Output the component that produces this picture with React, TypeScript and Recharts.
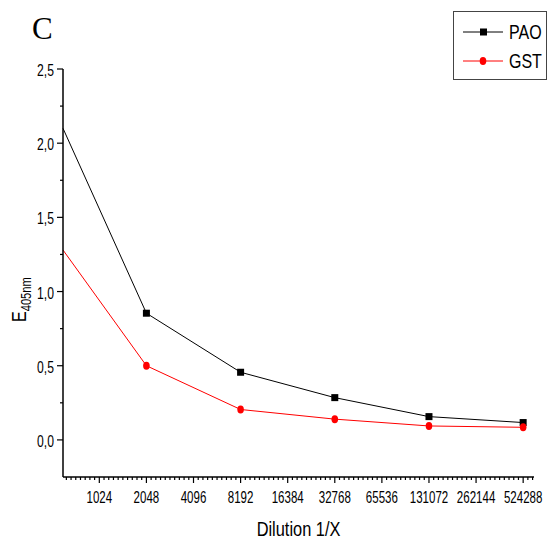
import React from "react";
import { LineChart, Line, XAxis, YAxis } from "recharts";

// ---- data ----
const dilutions = [600, 2048, 8192, 32768, 131072, 524288];
const paoValues = [2.1, 0.854, 0.456, 0.285, 0.157, 0.117];
const gstValues = [1.28, 0.5, 0.205, 0.14, 0.094, 0.085];

const xMajorTicks = [1024, 2048, 4096, 8192, 16384, 32768, 65536, 131072, 262144, 524288];
const yMajorTicks = [0, 0.5, 1, 1.5, 2, 2.5];
const xDomain = [600, 615000];
const yDomain = [-0.25, 2.5];

const seriesNames = ["PAO", "GST"];
const seriesColors = ["#000000", "#ff0000"];

const data = dilutions.map((d, i) => ({ d, pao: paoValues[i], gst: gstValues[i] }));

// minor ticks (10 subdivisions per octave on the log axis)
const xMinorTicks: number[] = [];
for (let k = 9; k <= 19; k++) {
  for (let j = 1; j <= 9; j++) {
    const v = Math.pow(2, k + j / 10);
    if (v >= xDomain[0] && v <= xDomain[1]) xMinorTicks.push(v);
  }
}
const xAllTicks = [...xMajorTicks, ...xMinorTicks].sort((a, b) => a - b);
const yMinorTicks = yMajorTicks.slice(0, -1).map((v) => v + 0.25);
const yAllTicks = [...yMajorTicks, ...yMinorTicks].sort((a, b) => a - b);

const FONT = "'Liberation Sans', Arial, sans-serif";

function NText(props: any) {
  const { x, y, size, anchor, children, sx } = props;
  const tr = `translate(${x},${y}) scale(${sx ?? 0.8},1)`;
  return (
    <text transform={tr} x={0} y={0} textAnchor={anchor || "start"} fontSize={size} fontFamily={FONT} fill="#000">
      {children}
    </text>
  );
}

function XTick(props: any) {
  const { x, y, payload } = props;
  const v = payload.value;
  const major = xMajorTicks.indexOf(v) >= 0;
  return (
    <g>
      <line x1={x} x2={x} y1={y} y2={y + (major ? 6 : 3)} stroke="#000" strokeWidth={1.2} />
      {major && (
        <NText x={x} y={y + 26} anchor="middle" size={16} sx={0.72}>
          {v}
        </NText>
      )}
    </g>
  );
}

function YTick(props: any) {
  const { x, y, payload } = props;
  const v = payload.value;
  const major = yMajorTicks.indexOf(v) >= 0;
  return (
    <g>
      <line x1={x - (major ? 6 : 3)} x2={x} y1={y} y2={y} stroke="#000" strokeWidth={1.2} />
      {major && (
        <NText x={x - 9} y={y + 7} anchor="end" size={16} sx={0.76}>
          {v.toFixed(1).replace(".", ",")}
        </NText>
      )}
    </g>
  );
}

function SquareDot(props: any) {
  const { cx, cy, index } = props;
  if (index === 0 || cx == null) return <g key={`s${index}`} />;
  return <rect key={`s${index}`} x={cx - 3.5} y={cy - 3.5} width={7} height={7} fill="#000" />;
}

function CircleDot(props: any) {
  const { cx, cy, index } = props;
  if (index === 0 || cx == null) return <g key={`c${index}`} />;
  return <ellipse key={`c${index}`} cx={cx} cy={cy} rx={3.3} ry={4} fill="#ff0000" />;
}

function LegendBox() {
  return (
    <svg width={94} height={70} style={{ display: "block" }}>
      <rect x={0.5} y={0.5} width={93} height={68} fill="#fff" stroke="#444" strokeWidth={1} />
      {seriesNames.map((name, i) => {
        const cy = 21 + i * 29;
        return (
          <g key={name}>
            <line x1={10} x2={50} y1={cy} y2={cy} stroke={seriesColors[i]} strokeWidth={1} />
            {i === 0 ? (
              <rect x={27} y={cy - 3.5} width={7} height={7} fill={seriesColors[i]} />
            ) : (
              <ellipse cx={30} cy={cy} rx={3.3} ry={4} fill={seriesColors[i]} />
            )}
            <NText x={56} y={cy + 7} size={20} sx={0.8}>
              {name}
            </NText>
          </g>
        );
      })}
    </svg>
  );
}

function XLabel(props: any) {
  const vb = props.viewBox || { x: 63, y: 477, width: 471, height: 62 };
  return (
    <NText x={vb.x + vb.width / 2} y={vb.y + 59} anchor="middle" size={21} sx={0.78}>
      Dilution 1/X
    </NText>
  );
}

function YLabel() {
  return (
    <text transform="translate(26,322) rotate(-90) scale(0.8,1)" fontFamily={FONT} fill="#000">
      <tspan fontSize={20}>E</tspan>
      <tspan fontSize={14} dy={5}>405nm</tspan>
    </text>
  );
}

export default function App() {
  return (
    <div style={{ position: "absolute", left: 0, top: 0, width: 547, height: 539, background: "#fff" }}>
      <div
        style={{
          position: "absolute",
          left: 32,
          top: 11,
          fontFamily: "'Liberation Serif', 'Times New Roman', serif",
          fontSize: 31,
          lineHeight: "36px",
          color: "#000",
        }}
      >
        C
      </div>
      <LineChart width={547} height={539} data={data} margin={{ top: 69, right: 13, bottom: 0, left: 0 }}>
        <XAxis
          dataKey="d"
          type="number"
          scale="log"
          domain={xDomain}
          ticks={xAllTicks}
          interval={0}
          tickLine={false}
          tickSize={0}
          tickMargin={0}
          tick={<XTick />}
          height={62}
          axisLine={{ stroke: "#000", strokeWidth: 1.5 }}
          label={<XLabel />}
        />
        <YAxis
          type="number"
          domain={yDomain}
          ticks={yAllTicks}
          interval={0}
          tickLine={false}
          tickSize={0}
          tickMargin={0}
          tick={<YTick />}
          width={63}
          axisLine={{ stroke: "#000", strokeWidth: 1.5 }}
          label={<YLabel />}
        />
        <Line
          type="linear"
          dataKey="pao"
          name={seriesNames[0]}
          stroke={seriesColors[0]}
          strokeWidth={1}
          dot={<SquareDot />}
          activeDot={false}
          isAnimationActive={false}
        />
        <Line
          type="linear"
          dataKey="gst"
          name={seriesNames[1]}
          stroke={seriesColors[1]}
          strokeWidth={1}
          dot={<CircleDot />}
          activeDot={false}
          isAnimationActive={false}
        />
      </LineChart>
      <div style={{ position: "absolute", left: 453, top: 11, width: 94, height: 70 }}>
        <LegendBox />
      </div>
    </div>
  );
}
